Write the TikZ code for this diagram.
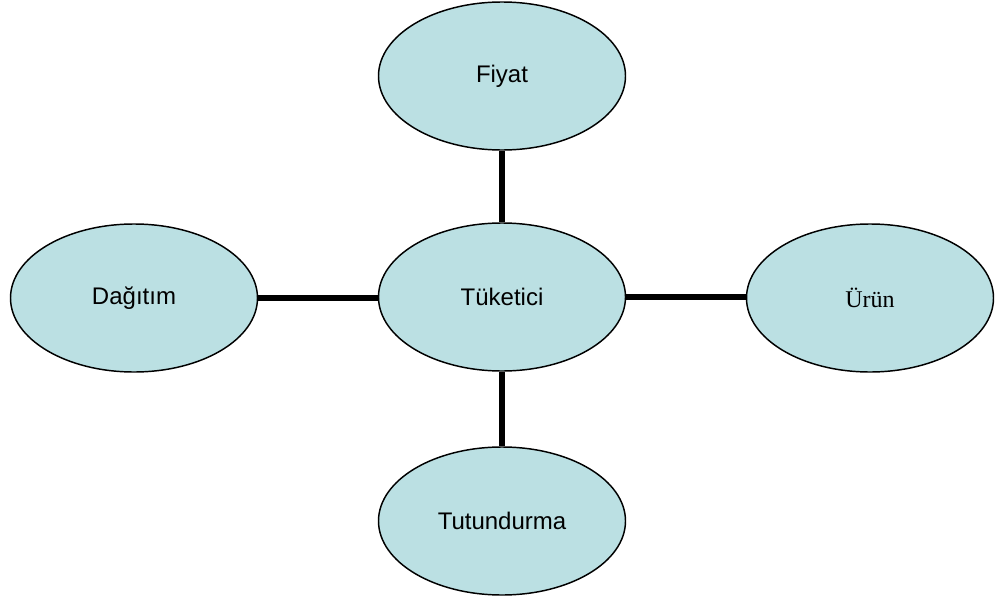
\documentclass[tikz,border=0pt]{standalone}
\usepackage{fontspec}
\setmainfont{Liberation Sans}
\newfontfamily\serifrm{Liberation Serif}
\usetikzlibrary{shapes.geometric}
\definecolor{ellfill}{RGB}{187,224,227}
\begin{document}
\begin{tikzpicture}[x=0.75pt,y=-0.75pt,
  oval/.style={ellipse,draw=black,line width=1.1pt,fill=ellfill,
    minimum width=247*0.75pt,minimum height=148*0.75pt,inner sep=0pt,
    font=\fontsize{18}{21}\selectfont},
  link/.style={line width=3.8pt,black}]
\useasboundingbox (0,0) rectangle (1000,596);
\node[oval] (fiyat) at (502,76) {Fiyat};
\node[oval] (tuk) at (502,297) {Tüketici};
\node[oval] (dag) at (134,298) {Dağıtım};
\node[oval] (urun) at (870,298) {\serifrm Ürün};
\node[oval] (tut) at (502,521) {Tutundurma};
\draw[link] (fiyat.south) -- (tuk.north);
\draw[link] (tuk.south) -- (tut.north);
\draw[link] (dag.east) -- (dag.east -| tuk.west);
\draw[link] (tuk.east) -- (tuk.east -| urun.west);
\end{tikzpicture}
\end{document}
